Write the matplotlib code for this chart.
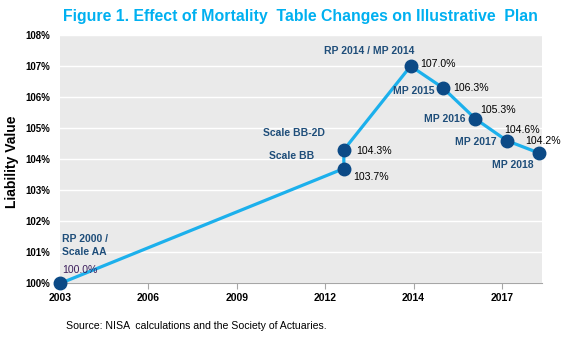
import matplotlib
matplotlib.use('Agg')
import matplotlib.pyplot as plt
import numpy as np

plt.rcParams['font.family'] = ['Liberation Sans', 'DejaVu Sans']

# mortality table steps (x in fractional years) and liability relative to RP 2000
years = [2003.0, 2011.8, 2011.8, 2013.87, 2014.87, 2015.88, 2016.85, 2017.85]
liability = [100.0, 103.7, 104.3, 107.0, 106.3, 105.3, 104.6, 104.2]
names = ['RP 2000 /\nScale AA', 'Scale BB', 'Scale BB-2D', 'RP 2014 / MP 2014',
         'MP 2015', 'MP 2016', 'MP 2017', 'MP 2018']
tick_labels = ['2003', '2006', '2009', '2012', '2014', '2017']

line_blue = '#1CB0EC'
dot_blue = '#0C4A86'
name_blue = '#1F4E7A'

fig = plt.figure(figsize=(5.68, 3.37), dpi=100)
ax = fig.add_axes([0.1056, 0.1588, 0.849, 0.7374])
ax.set_facecolor('#EAEAEA')

ax.plot(years, liability, color=line_blue, lw=2.3, zorder=3)
ax.plot(years, liability, 'o', color=dot_blue, ms=9, zorder=4, clip_on=False)

ax.set_xlim(2003, 2017.95)
ax.set_ylim(100, 108)
ax.set_yticks(np.arange(100, 109, 1))
ax.set_yticklabels(['{}%'.format(v) for v in range(100, 109)])
ax.set_xticks(np.linspace(2003, 2016.7, len(tick_labels)))
ax.set_xticklabels(tick_labels)

ax.grid(axis='y', color='white', lw=1)
ax.set_axisbelow(True)
for s in ['left', 'top', 'right']:
    ax.spines[s].set_visible(False)
ax.spines['bottom'].set_color('#A6A6A6')
ax.tick_params(axis='y', length=0, pad=7, labelsize=7)
ax.tick_params(axis='x', length=4, color='#A6A6A6', pad=3, labelsize=7.5)
for lab in ax.get_xticklabels() + ax.get_yticklabels():
    lab.set_fontweight('bold')

# name labels: (offset px, horizontal alignment)
name_pos = [((2, 38), 'left'), ((-52, 13), 'center'), ((-50, 17), 'center'),
            ((3.5, 15), 'right'), ((-8.7, -3.3), 'right'), ((-9.7, 0), 'right'),
            ((-10, -1.3), 'right'), ((-26.5, -12), 'center')]
value_pos = [(2, 13.5), (9.7, -8), (12.4, -0.7), (10, 1.7), (10, 0),
             (4.3, 9.3), (-2.7, 11), (-13.7, 12.3)]

for i, (x, y) in enumerate(zip(years, liability)):
    off, ha = name_pos[i]
    ax.annotate(names[i], xy=(x, y), xytext=off, textcoords='offset pixels',
                ha=ha, va='center', fontsize=7.5, fontweight='bold',
                color=name_blue, linespacing=1.35, zorder=5)
    ax.annotate('{:.1f}%'.format(y), xy=(x, y), xytext=value_pos[i],
                textcoords='offset pixels', ha='left', va='center',
                fontsize=7.6, color='#3C1E5C' if i == 0 else 'black', zorder=5)

fig.text(0.5296, 0.9496, 'Figure 1. Effect of Mortality  Table Changes on Illustrative  Plan',
         ha='center', va='center', fontsize=11.4, fontweight='bold', color='#00B0F0')
fig.text(12 / 568, 1 - 161.7 / 337, 'Liability Value', rotation=90,
         ha='center', va='center', fontsize=10, fontweight='bold')
fig.text(66 / 568, 1 - 325.7 / 337,
         'Source: NISA  calculations and the Society of Actuaries.',
         ha='left', va='center', fontsize=7.6)

fig.savefig('out.png', dpi=100)
